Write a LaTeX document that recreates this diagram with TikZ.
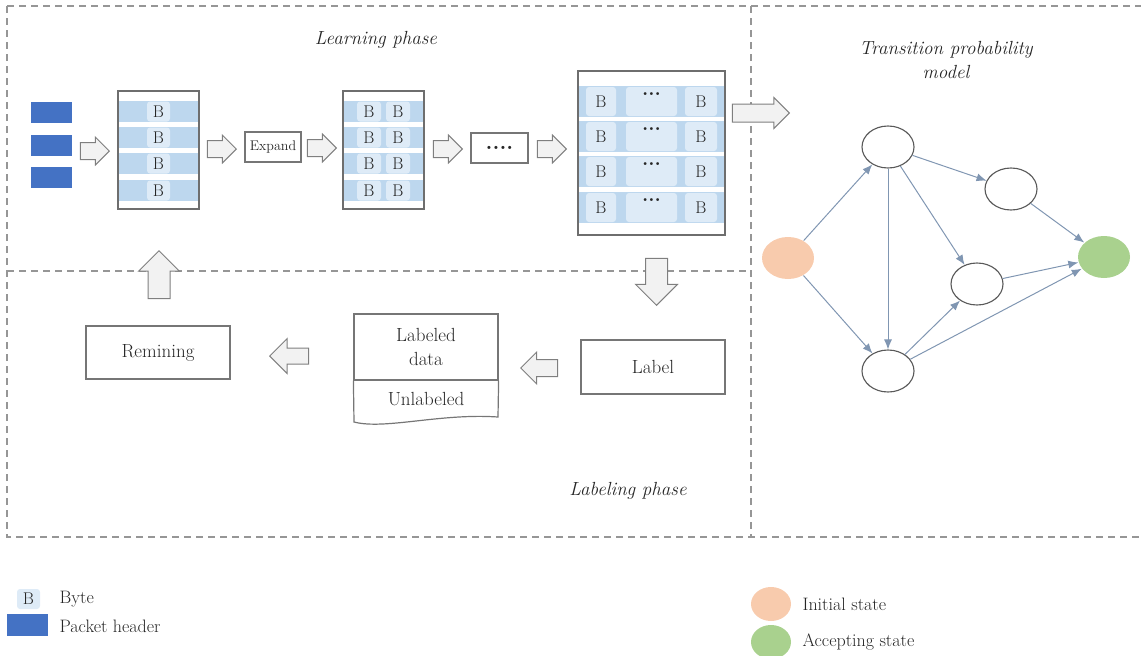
\documentclass[tikz,border=0pt]{standalone}
\usepackage{amsmath}
\usetikzlibrary{arrows.meta,automata,shapes.geometric,shapes.arrows}
\definecolor{hdr}{RGB}{68,114,196}
\definecolor{bandblue}{RGB}{189,215,238}
\definecolor{cellblue}{RGB}{222,235,247}
\definecolor{initfill}{RGB}{248,203,173}
\definecolor{accfill}{RGB}{169,209,142}
\definecolor{edgecol}{RGB}{128,150,178}
\definecolor{stline}{RGB}{89,89,89}
\definecolor{dashgr}{RGB}{150,150,150}
\definecolor{boxline}{RGB}{118,118,118}
\definecolor{frline}{RGB}{110,110,110}
\definecolor{arline}{RGB}{127,127,127}
\definecolor{arfill}{RGB}{242,242,242}

\begin{document}
\begin{tikzpicture}[x=1pt,y=-1pt,>={Latex[length=10pt,width=8pt]},semithick,
    font=\fontsize{19}{24}\selectfont,text=black!85]
  \tikzstyle{every state}=[ellipse,draw=stline,fill=white,line width=1.1,minimum width=52,minimum height=42,inner sep=0]
  \tikzstyle{fat}=[single arrow,anchor=tip,draw=arline,fill=arfill,line width=1,inner xsep=0,inner ysep=8,minimum width=0,single arrow head extend=5.5,minimum height=29]
  \tikzstyle{box}=[draw=boxline,line width=1.2,inner sep=0]
  \tikzstyle{frame}=[draw=frline,line width=1.2,inner sep=0]
  \tikzstyle{cell}=[fill=cellblue,rounded corners=3,inner sep=0,font=\fontsize{17}{17}\selectfont]
  \tikzstyle{phase}=[font=\fontsize{19}{24}\selectfont\itshape]
  \tikzstyle{dashes}=[draw=dashgr,line width=1.2,dash pattern=on 7pt off 5pt]
  \tikzstyle{legend}=[anchor=west,font=\fontsize{18}{18}\selectfont]

  \useasboundingbox (0,0) rectangle (1141,656);

  \draw[dashes] (7,6) -- (1141,6) (7,6) -- (7,537) -- (1141,537)
                (751,6) -- (751,537) (7,271) -- (751,271);

  \node[phase] (LP) at (376,40) {Learning phase};
  \node[phase] (BP) at (628,491) {Labeling phase};
  \node[phase,align=center] (TP) at (946,60) {Transition probability\\model};

  \foreach \y [count=\i] in {102,135,167}
    \node[fill=hdr,minimum width=41,minimum height=21,inner sep=0] (H\i) at (51.5,\y+10.5) {};

  \foreach \y [count=\i] in {101,127,153,180} {
    \fill[bandblue] (118,\y) rectangle (199,\y+21);
    \node[cell,minimum width=23,minimum height=20] (Ba\i) at (158.5,\y+10.5) {B};
    \fill[bandblue] (343,\y) rectangle (424,\y+21);
    \node[cell,minimum width=24,minimum height=20] (Bb\i) at (369,\y+10.5) {B};
    \node[cell,minimum width=24,minimum height=20] (Bc\i) at (398,\y+10.5) {B};
  }
  \node[frame,minimum width=81,minimum height=118] (M1) at (158.5,150) {};
  \node[frame,minimum width=81,minimum height=118] (M2) at (383.5,150) {};

  \foreach \y [count=\i] in {86,121,156,192} {
    \fill[bandblue] (578,\y) rectangle (725,\y+31);
    \node[cell,minimum width=30,minimum height=29] (Bd\i) at (601,\y+15.5) {B};
    \node[cell,minimum width=51,minimum height=29] (Be\i) at (651.5,\y+15.5) {};
    \node[inner sep=0,font=\fontsize{20}{20}\selectfont\bfseries] (Dt\i) at (651.5,\y+8) {...};
    \node[cell,minimum width=32,minimum height=29] (Bf\i) at (701,\y+15.5) {B};
  }
  \node[frame,minimum width=147,minimum height=164] (M3) at (651.5,153) {};

  \node[box,minimum width=56,minimum height=30,font=\fontsize{14}{14}\selectfont] (E) at (273,147) {Expand};
  \node[box,minimum width=57,minimum height=30,font=\fontsize{22}{22}\selectfont\bfseries] (DT) at (499.5,148) {....};
  \node[box,minimum width=144,minimum height=54] (L) at (653,367) {Label};
  \node[box,minimum width=144,minimum height=53] (R) at (158,352.5) {Remining};
  \node[box,minimum width=144,minimum height=66,align=center] (D) at (426,347) {Labeled\\data};
  \draw[draw=boxline,line width=1.2] (D.south west) -- (354,422)
        .. controls (385,430) and (440,413) .. (498,417) -- (D.south east);
  \node (U) at (426,399) {Unlabeled};

  \node[fat] (A1) at (110,151) {};
  \node[fat] (A2) at (237,149) {};
  \node[fat] (A3) at (337,148) {};
  \node[fat] (A4) at (463,149) {};
  \node[fat] (A5) at (567,149) {};
  \node[fat,minimum height=57,inner ysep=8.5,single arrow head extend=6.5] (A6) at (790,113) {};
  \node[fat,rotate=-90,minimum height=47,inner ysep=10.5,single arrow head extend=10] (A7) at (656.5,306) {};
  \node[fat,rotate=180,minimum height=37,inner ysep=8,single arrow head extend=7.5] (A8) at (520,368) {};
  \node[fat,rotate=180,minimum height=39,inner ysep=7.5,single arrow head extend=9.5] (A9) at (269,356) {};
  \node[fat,rotate=90,minimum height=48,inner ysep=10.5,single arrow head extend=9.5] (A10) at (159,250) {};

  \node[state,fill=initfill,draw=none] (I)  at (788,258)  {};
  \node[state]                         (S1) at (888,147)  {};
  \node[state]                         (S2) at (1011,189) {};
  \node[state]                         (S3) at (977,284)  {};
  \node[state]                         (S4) at (888,371)  {};
  \node[state,fill=accfill,draw=none]  (F)  at (1104,257) {};

  \path[->,color=edgecol,line width=1]
        (I)  edge (S1)
             edge (S4)
        (S1) edge (S2)
             edge (S3)
             edge (S4)
        (S2) edge (F)
        (S3) edge (F)
        (S4) edge (S3)
             edge (F);

  \node[cell,minimum width=23,minimum height=20] (LB) at (28.5,599) {B};
  \node[legend] (LBt) at (56,599) {Byte};
  \node[fill=hdr,minimum width=41,minimum height=22,inner sep=0] (LH) at (27.5,625) {};
  \node[legend] (LHt) at (56,626) {Packet header};
  \node[state,fill=initfill,draw=none,minimum width=40,minimum height=34] (LI) at (771,604) {};
  \node[legend] (LIt) at (799,604) {Initial state};
  \node[state,fill=accfill,draw=none,minimum width=40,minimum height=34] (LF) at (771,642) {};
  \node[legend] (LFt) at (799,642) {Accepting state};
\end{tikzpicture}
\end{document}
